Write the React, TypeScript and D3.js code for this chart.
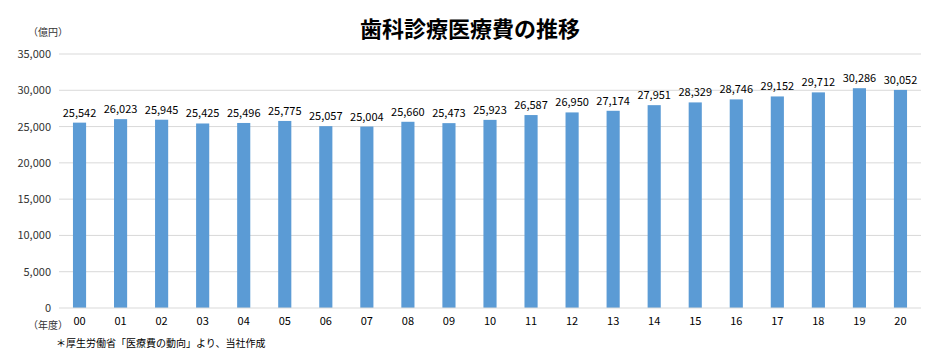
import React, { useRef, useEffect } from "react";
import * as d3 from "d3";

const years = ["00", "01", "02", "03", "04", "05", "06", "07", "08", "09", "10", "11", "12", "13", "14", "15", "16", "17", "18", "19", "20"];
const costs = [25542, 26023, 25945, 25425, 25496, 25775, 25057, 25004, 25660, 25473, 25923, 26587, 26950, 27174, 27951, 28329, 28746, 29152, 29712, 30286, 30052];
const yTicks = [0, 5000, 10000, 15000, 20000, 25000, 30000, 35000];

const title = "歯科診療医療費の推移";
const unitLabel = "（億円）";
const yearLabel = "（年度）";
const sourceNote = "＊厚生労働省「医療費の動向」より、当社作成";

const FONT = "'Noto Sans CJK JP', 'Liberation Sans', sans-serif";

export default function App() {
  const svgRef = useRef<SVGSVGElement>(null);
  const width = 943;
  const height = 352;

  useEffect(() => {
    const svg = d3.select(svgRef.current);
    svg.selectAll("*").remove();

    const left = 59, right = 921, top = 54, bottom = 308;

    const x = d3.scaleBand<string>().domain(years).range([left, right]).paddingInner(0.68).paddingOuter(0.34);
    const y = d3.scaleLinear().domain([0, 35000]).range([bottom, top]);

    // title
    svg.append("text")
      .attr("x", 470).attr("y", 37)
      .attr("text-anchor", "middle")
      .attr("font-family", FONT).attr("font-weight", "bold").attr("font-size", 22)
      .attr("fill", "#000")
      .text(title);

    // gridlines
    svg.append("g")
      .selectAll("line")
      .data(yTicks.filter((t) => t > 0))
      .join("line")
      .attr("x1", left).attr("x2", right)
      .attr("y1", (d) => y(d)).attr("y2", (d) => y(d))
      .attr("stroke", "#d9d9d9").attr("stroke-width", 1);

    // y tick labels
    svg.append("g")
      .selectAll("text")
      .data(yTicks)
      .join("text")
      .attr("x", 51).attr("y", (d) => y(d) + 4)
      .attr("text-anchor", "end")
      .attr("font-family", FONT).attr("font-size", 11).attr("fill", "#333")
      .text((d) => d3.format(",")(d));

    // bars
    svg.append("g")
      .selectAll("rect")
      .data(costs)
      .join("rect")
      .attr("x", (_, i) => x(years[i])!)
      .attr("y", (d) => y(d))
      .attr("width", x.bandwidth())
      .attr("height", (d) => bottom - y(d))
      .attr("fill", "#5b9bd5");

    // baseline
    svg.append("line")
      .attr("x1", left).attr("x2", right)
      .attr("y1", bottom).attr("y2", bottom)
      .attr("stroke", "#d9d9d9");

    // value labels
    svg.append("g")
      .selectAll("text")
      .data(costs)
      .join("text")
      .attr("x", (_, i) => x(years[i])! + x.bandwidth() / 2)
      .attr("y", (d) => y(d) - 6)
      .attr("text-anchor", "middle")
      .attr("font-family", FONT).attr("font-size", 11).attr("fill", "#000")
      .text((d) => d3.format(",")(d));

    // x labels
    svg.append("g")
      .selectAll("text")
      .data(years)
      .join("text")
      .attr("x", (d) => x(d)! + x.bandwidth() / 2)
      .attr("y", 325)
      .attr("text-anchor", "middle")
      .attr("font-family", FONT).attr("font-size", 11).attr("fill", "#000")
      .text((d) => d);

    svg.append("text")
      .attr("x", 28).attr("y", 36)
      .attr("font-family", FONT).attr("font-size", 10).attr("fill", "#333")
      .text(unitLabel);

    svg.append("text")
      .attr("x", 28).attr("y", 329)
      .attr("font-family", FONT).attr("font-size", 10).attr("fill", "#333")
      .text(yearLabel);

    svg.append("text")
      .attr("x", 56).attr("y", 347)
      .attr("font-family", FONT).attr("font-size", 10).attr("fill", "#000")
      .text(sourceNote);
  }, []);

  return (
    <svg
      ref={svgRef}
      width={width}
      height={height}
      style={{ position: "absolute", left: 0, top: 0, background: "#fff" }}
    />
  );
}
